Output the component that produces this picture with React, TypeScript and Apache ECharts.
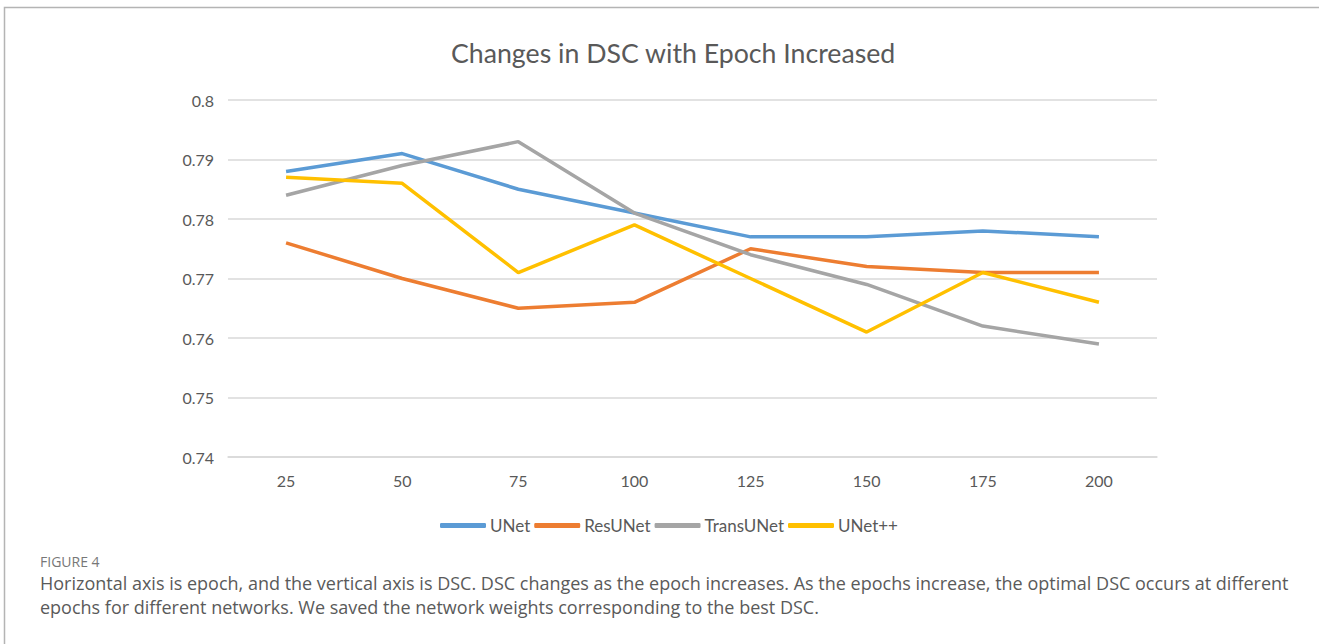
import React, { useEffect, useRef } from "react";
import * as echarts from "echarts";

const epochs = ["25", "50", "75", "100", "125", "150", "175", "200"];
const unet = [0.788, 0.791, 0.785, 0.781, 0.777, 0.777, 0.778, 0.777];
const resunet = [0.776, 0.77, 0.765, 0.766, 0.775, 0.772, 0.771, 0.771];
const transunet = [0.784, 0.789, 0.793, 0.781, 0.774, 0.769, 0.762, 0.759];
const unetpp = [0.787, 0.786, 0.771, 0.779, 0.77, 0.761, 0.771, 0.766];
const seriesNames = ["UNet", "ResUNet", "TransUNet", "UNet++"];
const colors = ["#5B9BD5", "#ED7D31", "#A5A5A5", "#FFC000"];
const titleText = "Changes in DSC with Epoch Increased";
const figureLabel = "FIGURE 4";
const captionLines = [
  "Horizontal axis is epoch, and the vertical axis is DSC. DSC changes as the epoch increases. As the epochs increase, the optimal DSC occurs at different",
  "epochs for different networks. We saved the network weights corresponding to the best DSC.",
];

export default function App() {
  const ref = useRef<HTMLDivElement>(null);
  useEffect(() => {
    if (!ref.current) return;
    const chart = echarts.init(ref.current, undefined, { renderer: "svg" });
    const data = [unet, resunet, transunet, unetpp];
    chart.setOption({
      animation: false,
      backgroundColor: "#ffffff",
      title: {
        text: titleText,
        left: 446,
        top: 34,
        textStyle: { fontFamily: "Lato", fontSize: 26.7, fontWeight: "normal", color: "#595959" },
      },
      legend: {
        top: 512,
        left: 435,
        icon: "roundRect",
        itemWidth: 46,
        itemHeight: 5,
        itemGap: 4,
        textStyle: { fontFamily: "Lato", fontSize: 17, color: "#595959", padding: [0, 0, 0, -1] },
        data: seriesNames,
      },
      grid: { left: 228, right: 162, top: 100, bottom: 187 },
      xAxis: {
        type: "category",
        data: epochs,
        boundaryGap: true,
        axisLine: { lineStyle: { color: "#d9d9d9", width: 1.5 } },
        axisTick: { show: false },
        axisLabel: { margin: 15, fontFamily: "Lato", fontSize: 16, color: "#595959" },
      },
      yAxis: {
        type: "value",
        min: 0.74,
        max: 0.8,
        interval: 0.01,
        axisLine: { show: false },
        axisTick: { show: false },
        splitLine: { lineStyle: { color: "#d9d9d9", width: 1.5 } },
        axisLabel: {
          margin: 14,
          fontFamily: "Lato",
          fontSize: 16,
          color: "#595959",
          formatter: (v: number) => String(parseFloat(v.toFixed(2))),
        },
      },
      series: seriesNames.map((name, i) => ({
        name,
        type: "line",
        data: data[i],
        symbol: "none",
        color: colors[i],
        lineStyle: { color: colors[i], width: 3.5 },
      })),
      graphic: [
        {
          type: "rect",
          shape: { x: 4.5, y: 7.5, width: 1400, height: 700 },
          style: { fill: "none", stroke: "#b4b4b4", lineWidth: 1.5 },
          silent: true,
        },
        {
          type: "text",
          left: 40,
          top: 554,
          style: { text: figureLabel, fontFamily: "Open Sans", fontSize: 14, fill: "#777777" },
        },
        {
          type: "text",
          left: 40,
          top: 574,
          style: { text: captionLines[0], fontFamily: "Open Sans", fontSize: 18, fill: "#5a5a5a" },
        },
        {
          type: "text",
          left: 40,
          top: 598,
          style: { text: captionLines[1], fontFamily: "Open Sans", fontSize: 18, fill: "#5a5a5a" },
        },
      ],
    });
    return () => chart.dispose();
  }, []);
  return (
    <div
      ref={ref}
      style={{ position: "fixed", left: 0, top: 0, width: 1319, height: 644 }}
    />
  );
}
